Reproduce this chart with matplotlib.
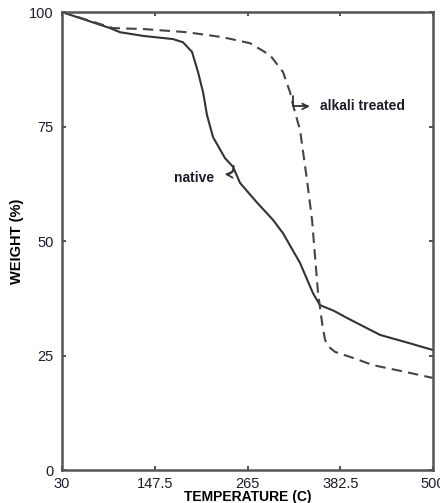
import matplotlib.pyplot as plt

# TGA curves
native_T = [30, 90.8, 103.5, 132.6, 170.6, 183.3, 194.7, 202.3, 208.7, 213.7,
            221.3, 236.5, 246.7, 255.5, 276.0, 297.4, 310.0, 331.6, 344.0,
            348.0, 356.9, 374.0, 391.1, 433.0, 468.0, 500]
native_W = [100, 96.5, 95.6, 94.8, 94.1, 93.4, 91.3, 86.9, 82.5, 77.5,
            72.7, 68.1, 66.2, 62.7, 58.6, 54.6, 51.7, 45.2, 40.2,
            38.6, 36.0, 34.8, 33.2, 29.5, 27.8, 26.2]

alkali_T = [30, 94.6, 132.6, 188.4, 234.0, 268.2, 293.6, 310.0, 318.9, 322.7,
            331.6, 340.4, 346.8, 354.4, 360.0, 363.3, 368.0, 375.9, 400.0,
            424.1, 460.0, 500]
alkali_W = [100, 96.5, 96.3, 95.6, 94.5, 93.2, 90.6, 86.9, 82.5, 79.7,
            74.2, 63.3, 54.6, 38.6, 31.5, 28.4, 26.9, 25.8, 24.4,
            22.9, 21.6, 20.1]

xticks = [30, 147.5, 265, 382.5, 500]
yticks = [0, 25, 50, 75, 100]

plt.rcParams['font.family'] = ['Liberation Sans', 'DejaVu Sans']

fig = plt.figure(figsize=(4.4, 5.03), dpi=100)
ax = fig.add_axes([0.141, 0.0656, 0.843, 0.9104])

ax.plot(native_T, native_W, color='#333333', lw=1.5, ls='-',
        solid_joinstyle='round')
ax.plot(alkali_T, alkali_W, color='#444444', lw=1.5, ls=(0, (5, 3)))

ax.set_xlim(30, 500)
ax.set_ylim(0, 100)
ax.set_xticks(xticks)
ax.set_xticklabels(['30', '147.5', '265', '382.5', '500'])
ax.set_yticks(yticks)
ax.tick_params(direction='in', top=True, right=True, length=3, width=1.2,
               labelsize=10.5, labelcolor='#1c1c2c', color='#333333', pad=6)
ax.tick_params(axis='x', pad=5)
for s in ax.spines.values():
    s.set_linewidth(1.8)
    s.set_color('#555555')

ax.set_xlabel('TEMPERATURE (C)', fontsize=10, fontweight='bold', labelpad=-1)
ax.set_ylabel('WEIGHT (%)', fontsize=10.5, fontweight='bold', labelpad=4)

# labels with small hooked arrows
ax.annotate('', xy=(344, 79.4), xytext=(322.5, 81.6),
            arrowprops=dict(arrowstyle='->', color='#333333', lw=1.3,
                            shrinkA=0, shrinkB=0,
                            connectionstyle='angle,angleA=90,angleB=0,rad=0'))
ax.text(357, 79.4, 'alkali treated', fontsize=10, fontweight='bold',
        va='center', ha='left', color='#1c1c2c')

ax.annotate('', xy=(236, 64.6), xytext=(247.5, 66.4),
            arrowprops=dict(arrowstyle='->', color='#333333', lw=1.3,
                            shrinkA=0, shrinkB=0, mutation_scale=11,
                            connectionstyle='arc3,rad=-0.5'))
ax.text(222.5, 63.8, 'native', fontsize=10, fontweight='bold',
        va='center', ha='right', color='#1c1c2c')

plt.savefig('out.png', dpi=100)
